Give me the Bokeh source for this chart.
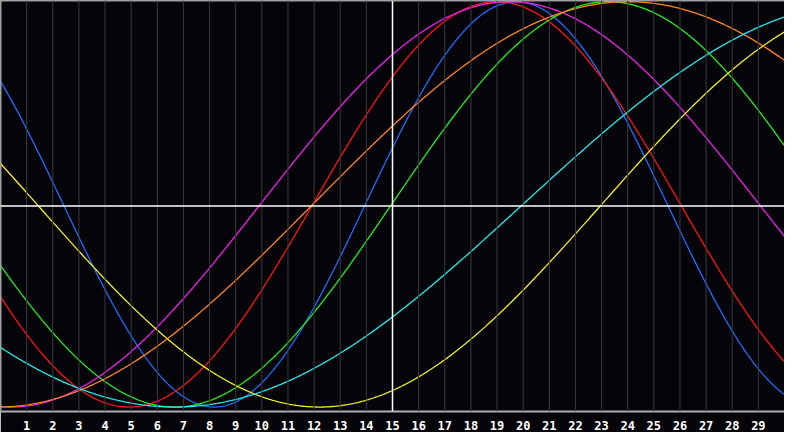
import numpy as np
from bokeh.plotting import figure
from bokeh.models import Range1d, LinearAxis, FixedTicker, Span
from bokeh.embed import file_html
from bokeh.resources import INLINE

# ciclos del biorritmo: periodo (dias) y dia en que cruzan el cero subiendo
periodos = [23, 28, 33, 38, 43, 48, 53]
cruce_subida = [14, 12, 15, 10, 23, 12, 20]
colores = ["#1c6cff", "#ff1414", "#22ee22", "#f020f0", "#f4f020", "#ff8420", "#22eeee"]
dias = list(range(1, 30))

p = figure(width=784, height=432, output_backend="svg", toolbar_location=None,
           x_range=Range1d(0, 30), y_range=Range1d(-1, 1),
           background_fill_color="#050408", border_fill_color="#050408",
           min_border_left=0, min_border_right=0, min_border_top=0, min_border_bottom=0,
           x_axis_location=None, y_axis_location=None)
p.outline_line_color = None
p.grid.visible = False

# las curvas van en su propia escala (un pelin desplazada respecto a la rejilla)
p.extra_x_ranges = {"curva": Range1d(0.11, 29.96)}
p.extra_y_ranges = {"curva": Range1d(-1.022, 1.006)}

for d in dias:
    p.add_layout(Span(location=d, dimension="height", line_color="#3a3a3e", line_width=1))
p.add_layout(Span(location=15, dimension="height", line_color="white", line_width=1.5))
p.add_layout(Span(location=0, dimension="width", line_color="white", line_width=1.5))

t = np.linspace(0.11, 29.96, 700)
for per, c0, col in zip(periodos, cruce_subida, colores):
    y = np.sin(2 * np.pi * (t - c0) / per)
    p.line(t, y, color=col, line_width=1.3, x_range_name="curva", y_range_name="curva")

abajo = LinearAxis(ticker=FixedTicker(ticks=dias))
abajo.axis_line_color = "#b0b0b0"
abajo.axis_line_width = 2
abajo.major_tick_line_color = None
abajo.minor_tick_line_color = None
abajo.major_label_text_color = "white"
abajo.major_label_text_font = "DejaVu Sans Mono"
abajo.major_label_text_font_style = "bold"
abajo.major_label_text_font_size = "12px"
abajo.major_label_standoff = 3
p.add_layout(abajo, "below")

for lado in ["left", "above"]:
    borde = LinearAxis(ticker=FixedTicker(ticks=[]))
    borde.axis_line_color = "#a0a0a0"
    borde.axis_line_width = 2
    borde.major_tick_line_color = None
    borde.minor_tick_line_color = None
    borde.major_label_text_font_size = "0px"
    borde.major_label_standoff = 0
    p.add_layout(borde, lado)

open("out.html", "w").write(file_html(p, INLINE))
